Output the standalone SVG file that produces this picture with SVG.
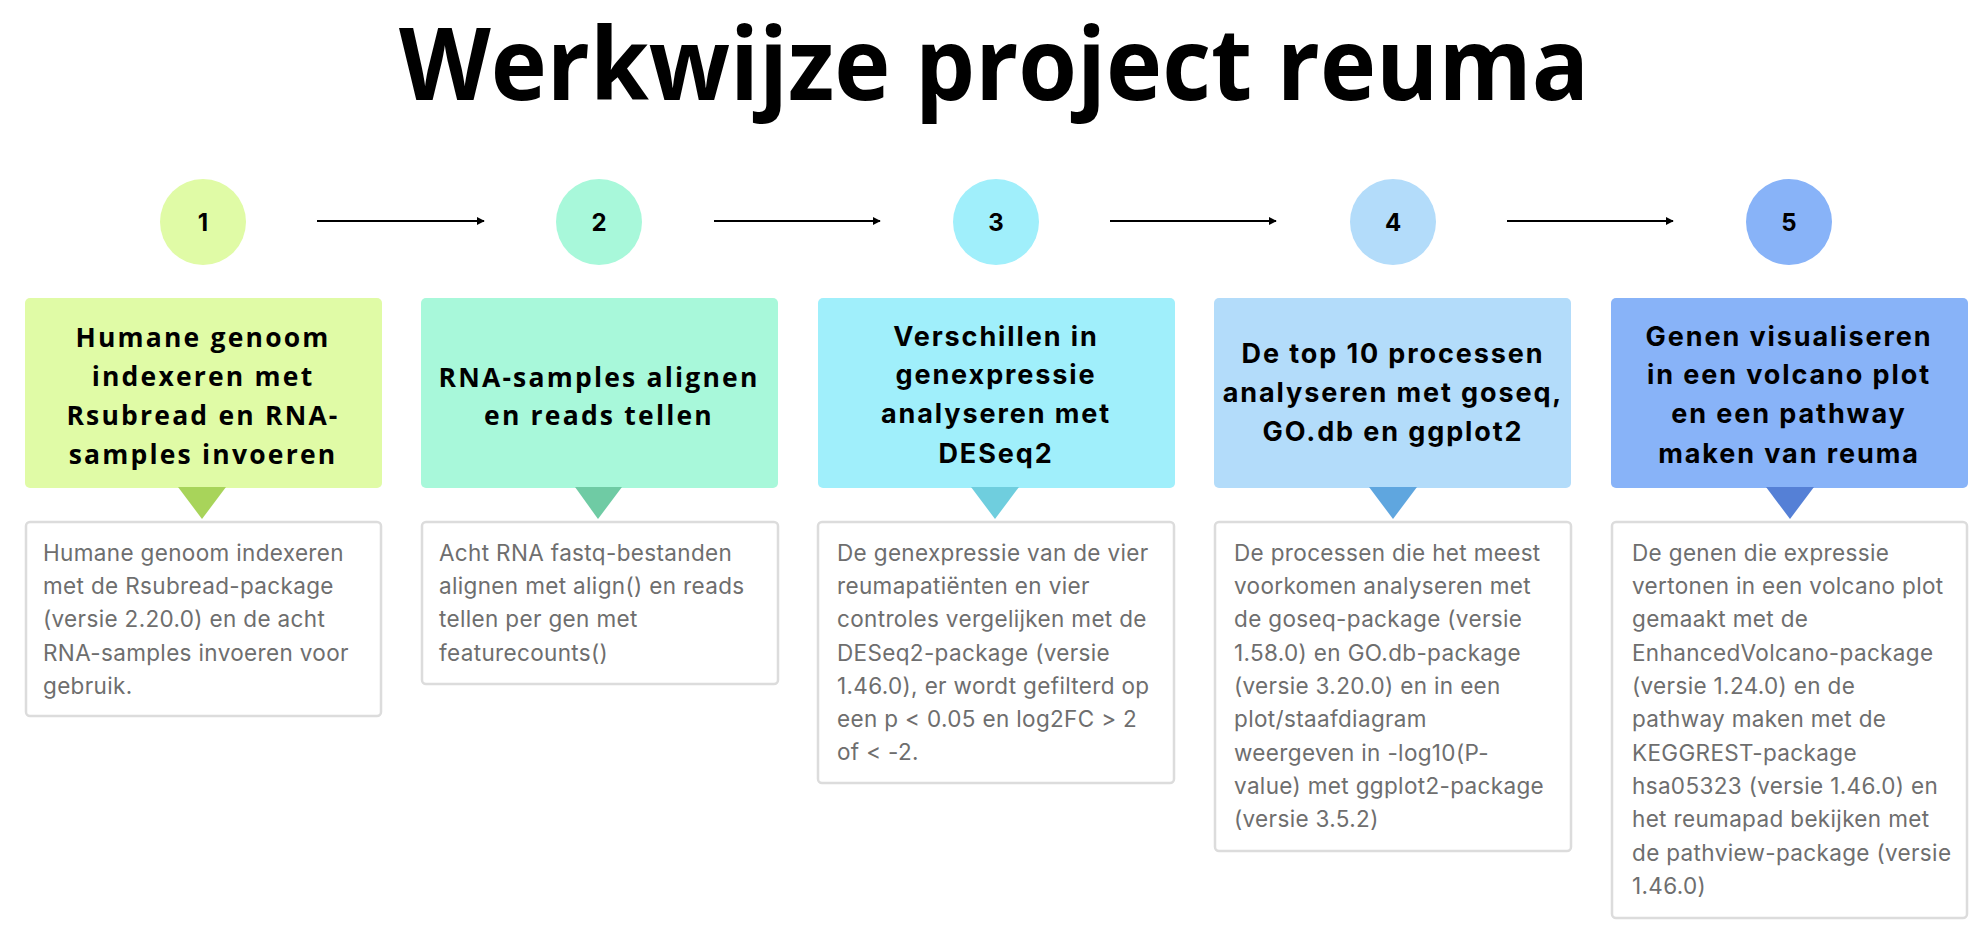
<svg xmlns="http://www.w3.org/2000/svg" width="1986" height="944" viewBox="0 0 1986 944">
<style>
.title{font-family:"Open Sans","Liberation Sans",sans-serif;font-weight:700;font-size:100px;fill:#000}
.num{font-family:Inter,"Liberation Sans",sans-serif;font-weight:700;font-size:24px;fill:#000;text-anchor:middle}
.hA{font-family:"Open Sans","Liberation Sans",sans-serif;font-weight:700;font-size:26.5px;fill:#000;text-anchor:middle;letter-spacing:2.2px}
.hB{font-family:Inter,"Liberation Sans",sans-serif;font-weight:700;font-size:27px;fill:#000;text-anchor:middle;letter-spacing:1.9px}
.d{font-family:Inter,"Liberation Sans",sans-serif;font-size:22.5px;fill:#6e6e6e;letter-spacing:0.35px}
.card{fill:#fff;stroke:#dcdcdc;stroke-width:2.5}
.conn{stroke:#000;stroke-width:2;fill:none}
</style>
<defs>
<marker id="ah" viewBox="0 0 10 10" refX="9" refY="5" markerWidth="4" markerHeight="4" orient="auto" markerUnits="strokeWidth">
<path d="M0,0 L10,5 L0,10 z" fill="#000"/>
</marker>
</defs>
<rect width="1986" height="944" fill="#fff"/>
<text class="title" x="994" y="100" text-anchor="middle" textLength="1190" lengthAdjust="spacingAndGlyphs">Werkwijze project reuma</text>

<g id="connectors">
<line class="conn" x1="317" y1="221" x2="484" y2="221" marker-end="url(#ah)"/>
<line class="conn" x1="714" y1="221" x2="880" y2="221" marker-end="url(#ah)"/>
<line class="conn" x1="1110" y1="221" x2="1276" y2="221" marker-end="url(#ah)"/>
<line class="conn" x1="1507" y1="221" x2="1673" y2="221" marker-end="url(#ah)"/>
</g>

<g id="step1">
<circle cx="203" cy="222" r="43" fill="#e0fba6"/>
<text class="num" x="203" y="231">1</text>
<rect x="25" y="298" width="357" height="190" rx="5" fill="#e0fba6"/>
<text class="hA" x="203" y="347">Humane genoom</text>
<text class="hA" x="203" y="386">indexeren met</text>
<text class="hA" x="203" y="425">Rsubread en RNA-</text>
<text class="hA" x="203" y="464">samples invoeren</text>
<path d="M178,487 L226,487 L202,519 z" fill="#a8d45a"/>
<rect class="card" x="26" y="522" width="355" height="194" rx="4"/>
<text class="d"><tspan x="43" y="561">Humane genoom indexeren</tspan><tspan x="43" y="594">met de Rsubread-package</tspan><tspan x="43" y="627">(versie 2.20.0) en de acht</tspan><tspan x="43" y="661">RNA-samples invoeren voor</tspan><tspan x="43" y="694">gebruik.</tspan></text>
</g>

<g id="step2">
<circle cx="599" cy="222" r="43" fill="#a8f8da"/>
<text class="num" x="599" y="231">2</text>
<rect x="421" y="298" width="357" height="190" rx="5" fill="#a8f8da"/>
<text class="hA" x="599" y="387">RNA-samples alignen</text>
<text class="hA" x="599" y="425">en reads tellen</text>
<path d="M575,487 L622,487 L598,519 z" fill="#6fcba4"/>
<rect class="card" x="422" y="522" width="356" height="162" rx="4"/>
<text class="d"><tspan x="439" y="561">Acht RNA fastq-bestanden</tspan><tspan x="439" y="594">alignen met align() en reads</tspan><tspan x="439" y="627">tellen per gen met</tspan><tspan x="439" y="661">featurecounts()</tspan></text>
</g>

<g id="step3">
<circle cx="996" cy="222" r="43" fill="#a0effb"/>
<text class="num" x="996" y="231">3</text>
<rect x="818" y="298" width="357" height="190" rx="5" fill="#a0effb"/>
<text class="hB" x="996" y="346">Verschillen in</text>
<text class="hB" x="996" y="384">genexpressie</text>
<text class="hB" x="996" y="423">analyseren met</text>
<text class="hB" x="996" y="463">DESeq2</text>
<path d="M971,487 L1019,487 L995,519 z" fill="#6fcede"/>
<rect class="card" x="818" y="522" width="356" height="261" rx="4"/>
<text class="d"><tspan x="837" y="561">De genexpressie van de vier</tspan><tspan x="837" y="594">reumapatiënten en vier</tspan><tspan x="837" y="627">controles vergelijken met de</tspan><tspan x="837" y="661">DESeq2-package (versie</tspan><tspan x="837" y="694">1.46.0), er wordt gefilterd op</tspan><tspan x="837" y="727">een p &lt; 0.05 en log2FC &gt; 2</tspan><tspan x="837" y="760">of &lt; -2.</tspan></text>
</g>

<g id="step4">
<circle cx="1393" cy="222" r="43" fill="#b3dcfa"/>
<text class="num" x="1393" y="231">4</text>
<rect x="1214" y="298" width="357" height="190" rx="5" fill="#b3dcfa"/>
<text class="hB" x="1393" y="363">De top 10 processen</text>
<text class="hB" x="1393" y="402">analyseren met goseq,</text>
<text class="hB" x="1393" y="441">GO.db en ggplot2</text>
<path d="M1369,487 L1417,487 L1393,519 z" fill="#5fa6df"/>
<rect class="card" x="1215" y="522" width="356" height="329" rx="4"/>
<text class="d"><tspan x="1234" y="561">De processen die het meest</tspan><tspan x="1234" y="594">voorkomen analyseren met</tspan><tspan x="1234" y="627">de goseq-package (versie</tspan><tspan x="1234" y="661">1.58.0) en GO.db-package</tspan><tspan x="1234" y="694">(versie 3.20.0) en in een</tspan><tspan x="1234" y="727">plot/staafdiagram</tspan><tspan x="1234" y="761">weergeven in -log10(P-</tspan><tspan x="1234" y="794">value) met ggplot2-package</tspan><tspan x="1234" y="827">(versie 3.5.2)</tspan></text>
</g>

<g id="step5">
<circle cx="1789" cy="222" r="43" fill="#88b3f8"/>
<text class="num" x="1789" y="231">5</text>
<rect x="1611" y="298" width="357" height="190" rx="5" fill="#88b3f8"/>
<text class="hB" x="1789" y="346">Genen visualiseren</text>
<text class="hB" x="1789" y="384">in een volcano plot</text>
<text class="hB" x="1789" y="423">en een pathway</text>
<text class="hB" x="1789" y="463">maken van reuma</text>
<path d="M1766,487 L1814,487 L1790,519 z" fill="#5580d6"/>
<rect class="card" x="1612" y="522" width="355" height="396" rx="4"/>
<text class="d"><tspan x="1632" y="561">De genen die expressie</tspan><tspan x="1632" y="594">vertonen in een volcano plot</tspan><tspan x="1632" y="627">gemaakt met de</tspan><tspan x="1632" y="661">EnhancedVolcano-package</tspan><tspan x="1632" y="694">(versie 1.24.0) en de</tspan><tspan x="1632" y="727">pathway maken met de</tspan><tspan x="1632" y="761">KEGGREST-package</tspan><tspan x="1632" y="794">hsa05323 (versie 1.46.0) en</tspan><tspan x="1632" y="827">het reumapad bekijken met</tspan><tspan x="1632" y="861">de pathview-package (versie</tspan><tspan x="1632" y="894">1.46.0)</tspan></text>
</g>
</svg>
